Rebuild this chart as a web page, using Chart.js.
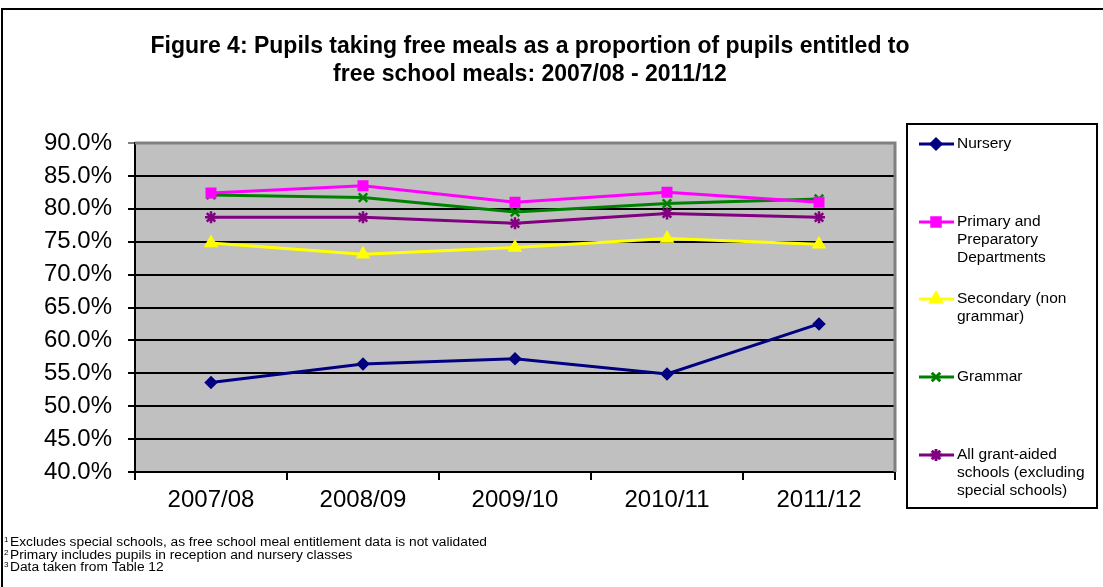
<!DOCTYPE html>
<html>
<head>
<meta charset="utf-8">
<style>
  html, body { margin: 0; padding: 0; background: #fff; }
  #wrap { width: 1103px; height: 587px; position: relative; }
</style>
<script src="https://cdn.jsdelivr.net/npm/chart.js@4.4.0/dist/chart.umd.min.js"></script>
</head>
<body>
<div id="wrap"><canvas id="myChart" width="1103" height="587"></canvas></div>
<script>
// data (percent)
var years = ["2007/08", "2008/09", "2009/10", "2010/11", "2011/12"];
var nursery = [53.6, 56.4, 57.2, 54.9, 62.5];
var primary = [82.4, 83.5, 81.0, 82.5, 81.0];
var secondary = [74.8, 73.1, 74.1, 75.5, 74.6];
var grammar = [82.1, 81.7, 79.5, 80.8, 81.5];
var allSchools = [78.7, 78.7, 77.8, 79.3, 78.7];

var titleLines = [
  "Figure 4: Pupils taking free meals as a proportion of pupils entitled to",
  "free school meals: 2007/08 - 2011/12"
];
var footnotes = [
  ["1", "Excludes special schools, as free school meal entitlement data is not validated"],
  ["2", "Primary includes pupils in reception and nursery classes"],
  ["3", "Data taken from Table 12"]
];
var legendLabels = [
  ["Nursery"],
  ["Primary and", "Preparatory", "Departments"],
  ["Secondary (non", "grammar)"],
  ["Grammar"],
  ["All grant-aided", "schools (excluding", "special schools)"]
];

var FONT = "Arial, 'Liberation Sans', sans-serif";

// gray plot background, outer frame, title, legend box, footnotes
var decorations = {
  id: "decorations",
  beforeDraw: function (chart) {
    var c = chart.ctx, a = chart.chartArea;
    c.save();
    c.fillStyle = "#fff";
    c.fillRect(0, 0, chart.width, chart.height);
    c.fillStyle = "#c0c0c0";
    c.fillRect(a.left, a.top, a.right - a.left, a.bottom - a.top);
    c.restore();
  },
  beforeDatasetsDraw: function (chart) {
    var c = chart.ctx, a = chart.chartArea;
    c.save();
    c.strokeStyle = "#808080";
    c.lineWidth = 3;
    c.beginPath();
    c.moveTo(a.left, a.top);
    c.lineTo(a.right, a.top);
    c.lineTo(a.right, a.bottom);
    c.stroke();
    c.restore();
  },
  afterDraw: function (chart) {
    var c = chart.ctx;
    c.save();
    // outer frame (only top and left visible)
    c.strokeStyle = "#000";
    c.lineWidth = 2;
    c.beginPath();
    c.moveTo(2, chart.height);
    c.lineTo(2, 9);
    c.lineTo(chart.width, 9);
    c.stroke();

    // title
    c.fillStyle = "#000";
    c.font = "bold 23px " + FONT;
    c.textAlign = "center";
    c.textBaseline = "middle";
    c.fillText(titleLines[0], 530, 47);
    c.fillText(titleLines[1], 530, 75);

    // legend box
    c.lineWidth = 2;
    c.strokeRect(907, 124, 190, 384);
    var ys = [144, 222, 299, 377, 455];
    c.textAlign = "left";
    chart.data.datasets.forEach(function (ds, i) {
      var y = ys[i];
      c.strokeStyle = ds.borderColor;
      c.fillStyle = ds.borderColor;
      c.lineWidth = 3;
      c.beginPath();
      c.moveTo(919, y);
      c.lineTo(954, y);
      c.stroke();
      Chart.helpers.drawPoint(c, {
        pointStyle: ds.pointStyle,
        radius: ds.pointRadius,
        rotation: 0,
        borderWidth: ds.pointBorderWidth || 1
      }, 936, y);
      c.fillStyle = "#000";
      c.font = "15.5px " + FONT;
      legendLabels[i].forEach(function (t, j) {
        c.fillText(t, 957, y + j * 18);
      });
    });

    // footnotes (stretched horizontally like the original)
    c.textBaseline = "middle";
    c.font = "12px " + FONT;
    var sx = 477 / c.measureText(footnotes[0][1]).width;
    footnotes.forEach(function (f, i) {
      var y = 543 + i * 12.5;
      c.font = "8px " + FONT;
      c.fillText(f[0], 4, y - 3);
      c.save();
      c.translate(10, y);
      c.scale(sx, 1);
      c.font = "12px " + FONT;
      c.fillText(f[1], 0, 0);
      c.restore();
    });
    c.restore();
  }
};

function series(label, data, color, style, radius) {
  return {
    label: label,
    data: data,
    borderColor: color,
    backgroundColor: color,
    pointBackgroundColor: color,
    pointBorderColor: color,
    pointStyle: style,
    pointRadius: radius,
    pointHoverRadius: radius,
    pointBorderWidth: 2.5,
    borderWidth: 3,
    tension: 0
  };
}

var ctx = document.getElementById("myChart").getContext("2d");

var myChart = new Chart(ctx, {
  type: "line",
  data: {
    labels: years,
    datasets: [
      series("Nursery", nursery, "#000080", "rectRot", 5),
      series("Primary and Preparatory Departments", primary, "#ff00ff", "rect", 6),
      series("Secondary (non grammar)", secondary, "#ffff00", "triangle", 6),
      series("Grammar", grammar, "#008000", "crossRot", 6),
      series("All grant-aided schools (excluding special schools)", allSchools, "#800080", "star", 6)
    ]
  },
  options: {
    responsive: false,
    animation: false,
    layout: { padding: { top: 143, right: 208, left: 0, bottom: 0 } },
    plugins: {
      legend: { display: false },
      title: { display: false },
      tooltip: { enabled: false }
    },
    scales: {
      x: {
        offset: true,
        afterFit: function (scale) { scale.height = 115; },
        grid: {
          offset: true,
          drawOnChartArea: false,
          drawTicks: true,
          tickLength: 8,
          color: "#000",
          lineWidth: 2
        },
        border: { color: "#000", width: 2 },
        ticks: {
          color: "#000",
          padding: 6,
          font: { family: FONT, size: 24 }
        }
      },
      y: {
        min: 40,
        max: 90,
        afterFit: function (scale) { scale.width = 135; },
        grid: {
          color: function (c) { return c.tick && c.tick.value === 90 ? "#808080" : "#000"; },
          lineWidth: 2,
          tickLength: 7,
          drawTicks: true
        },
        border: { color: "#000", width: 2 },
        ticks: {
          stepSize: 5,
          color: "#000",
          padding: 16,
          font: { family: FONT, size: 24 },
          callback: function (v) { return v.toFixed(1) + "%"; }
        }
      }
    }
  },
  plugins: [decorations]
});
</script>
</body>
</html>
